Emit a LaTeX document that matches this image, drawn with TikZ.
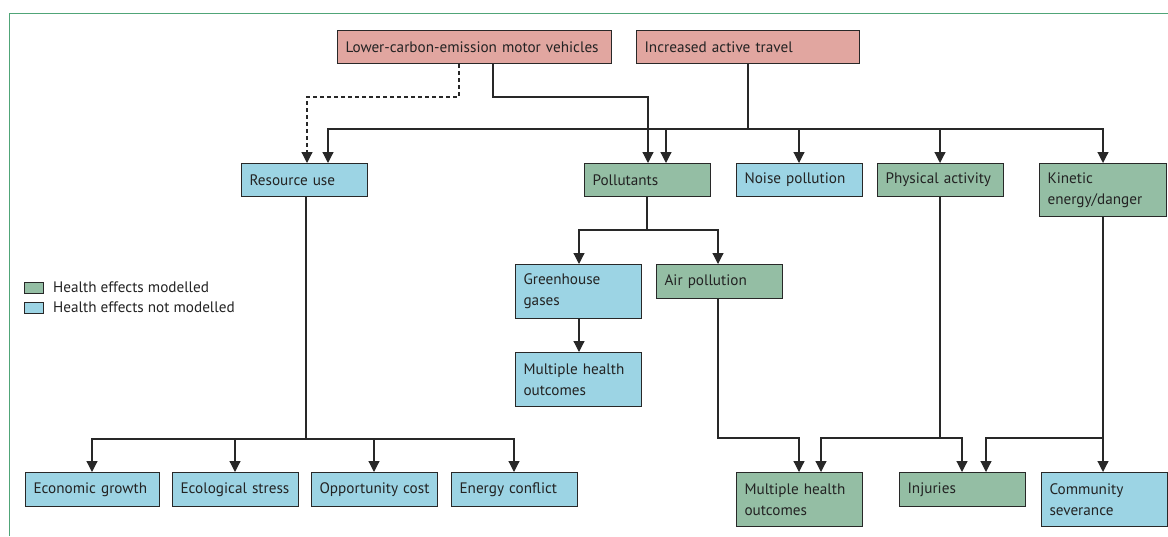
\documentclass[tikz,border=0pt]{standalone}
\usepackage{fontspec}
\setmainfont{PT Sans}
\usetikzlibrary{arrows.meta}
\definecolor{pinkf}{RGB}{225,166,160}
\definecolor{greenf}{RGB}{148,190,164}
\definecolor{bluef}{RGB}{156,212,228}
\definecolor{framec}{RGB}{80,165,120}
\definecolor{linec}{RGB}{40,40,40}
\definecolor{txtc}{RGB}{35,35,35}
\tikzset{
  box/.style={draw=linec, line width=1.1pt, rectangle, anchor=north west, align=left,
    inner xsep=8pt, inner ysep=0pt, text=txtc, font=\fontsize{15.2}{21}\selectfont},
  pinkbox/.style={box, fill=pinkf},
  greenbox/.style={box, fill=greenf},
  bluebox/.style={box, fill=bluef},
  w/.style={text width=#1pt-16pt},
  h/.style={minimum height=#1pt},
  conn/.style={draw=linec, line width=1.2pt},
  arr/.style={conn, -{Triangle[length=11pt,width=11pt]}},
  dasharr/.style={arr, dash pattern=on 4pt off 3pt},
  legbox/.style={draw=linec, line width=1pt, minimum width=19pt, minimum height=11pt, inner sep=0pt, anchor=north west},
  legtxt/.style={anchor=west, text=txtc, font=\fontsize{15.2}{18}\selectfont, inner sep=0pt},
}
\begin{document}
\begin{tikzpicture}[x=1pt,y=-1pt]
\useasboundingbox (0,0) rectangle (1168,536);
\draw[framec, line width=1pt] (9,536) -- (9,13) -- (1168,13);

% top
\node[pinkbox, w=274, h=33] (lcv) at (337,30) {\mbox{Lower-carbon-emission motor vehicles}};
\node[pinkbox, w=223, h=33] (iat) at (636,30) {\mbox{Increased active travel}};

% second row
\node[bluebox, w=126, h=33] (res) at (241,163) {\mbox{Resource use}};
\node[greenbox, w=126, h=33] (pol) at (584,163) {\mbox{Pollutants}};
\node[bluebox, w=126, h=33] (noi) at (736,163) {\mbox{Noise pollution}};
\node[greenbox, w=126, h=33] (phy) at (877,163) {\mbox{Physical activity}};
\node[greenbox, w=127, h=53] (kin) at (1039,163) {\mbox{Kinetic}\\\mbox{energy/danger}};

% third row
\node[bluebox, w=126, h=54] (ghg) at (515,264) {\mbox{Greenhouse}\\\mbox{gases}};
\node[greenbox, w=126, h=34] (air) at (656,264) {\mbox{Air pollution}};
\node[bluebox, w=126, h=54] (mho1) at (515,352) {\mbox{Multiple health}\\\mbox{outcomes}};

% bottom row
\node[bluebox, w=134, h=34] (eco) at (25,472) {\mbox{Economic growth}};
\node[bluebox, w=126, h=34] (ecs) at (172,472) {\mbox{Ecological stress}};
\node[bluebox, w=126, h=34] (opp) at (311,472) {\mbox{Opportunity cost}};
\node[bluebox, w=126, h=34] (ene) at (451,472) {\mbox{Energy conflict}};
\node[greenbox, w=126, h=54] (mho2) at (736,472) {\mbox{Multiple health}\\\mbox{outcomes}};
\node[greenbox, w=126, h=34] (inj) at (899,472) {\mbox{Injuries}};
\node[bluebox, w=126, h=54] (com) at (1041,472) {\mbox{Community}\\\mbox{severance}};

% legend
\node[legbox, fill=greenf] (lg1) at (24,282) {};
\node[legbox, fill=bluef] (lg2) at (24,302) {};
\node[legtxt] (lt1) at (53,287.5) {Health effects modelled};
\node[legtxt] (lt2) at (53,307.5) {Health effects not modelled};

% connectors from top
\draw[dasharr] (lcv.south -| 459,0) |- (307,97) -- (res.north -| 307,0);
\draw[arr] (lcv.south -| 493,0) |- (648,97) -- (pol.north -| 648,0);
\draw[conn] (iat.south -| 748,0) -- (748,129);
\draw[arr] (1103,129) -| (res.north -| 328,0);
\draw[arr] (666,129) -- (pol.north -| 666,0);
\draw[arr] (799,129) -- (noi.north -| 799,0);
\draw[arr] (940,129) -- (phy.north -| 940,0);
\draw[arr] (328,129) -- (1103,129) -- (kin.north -| 1103,0);

% pollutants
\draw[conn] (pol.south -| 647,0) -- (647,230);
\draw[arr] (647,230) -| (ghg.north -| 579,0);
\draw[arr] (647,230) -| (air.north -| 718,0);
\draw[arr] (ghg.south -| 579,0) -- (mho1.north -| 579,0);

% resource use
\draw[conn] (res.south -| 306,0) -- (306,439);
\draw[arr] (306,439) -| (eco.north -| 92,0);
\draw[arr] (235,439) -- (ecs.north -| 235,0);
\draw[arr] (374,439) -- (opp.north -| 374,0);
\draw[arr] (306,439) -| (ene.north -| 514,0);

% lower right
\draw[arr] (air.south -| 718,0) |- (799,438) -- (mho2.north -| 799,0);
\draw[conn] (phy.south -| 940,0) -- (940,438);
\draw[arr] (940,438) -| (mho2.north -| 821,0);
\draw[arr] (940,438) -| (inj.north -| 962,0);
\draw[arr] (kin.south -| 1103,0) -- (com.north -| 1103,0);
\draw[arr] (1103,438) -| (inj.north -| 986,0);
\end{tikzpicture}
\end{document}
